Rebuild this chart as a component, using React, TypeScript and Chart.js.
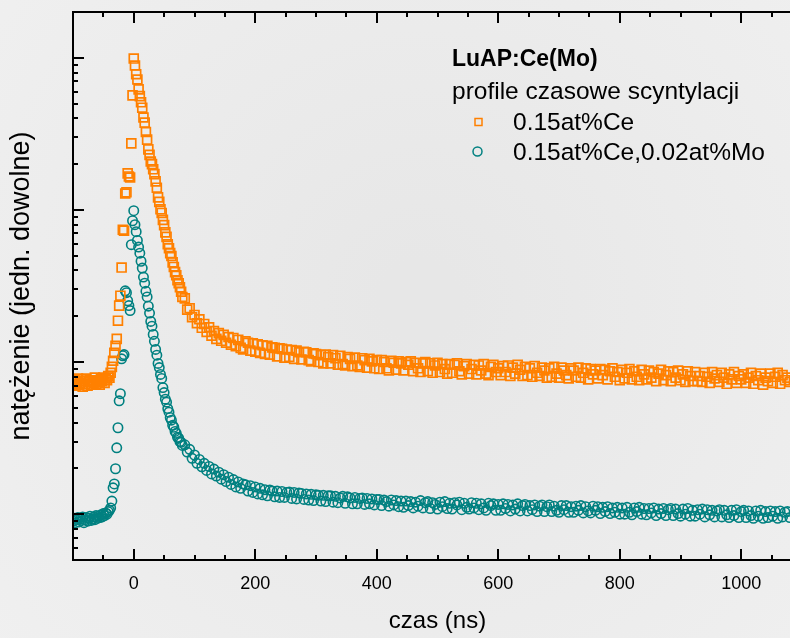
import { useEffect, useRef } from 'react';
import { Chart, registerables } from 'chart.js';

Chart.register(...registerables);

// czas (ns) – sampling times shared by both series
const czasBaseline = [
  -100, -98, -96, -94, -92, -90, -88, -86, -84, -82, -80, -78, -76, -74, -72, -70,
  -68, -66, -64, -62, -60, -58, -56, -54, -52, -50, -48, -46, -44, -42, -40,
];
const czasEdgeDecay = [
  -38, -36, -34, -32, -30, -28, -26, -24, -22, -20, -18, -16, -14, -12, -10, -8, -6, -4, -2, 0,
  2, 4, 6, 8, 10, 12, 14, 16, 18, 20, 22, 24, 26, 28, 30, 32, 34, 36, 38, 40,
  42, 44, 46, 48, 50, 52, 54, 56, 58, 60, 62, 64, 66, 68, 70, 72, 74, 76, 78, 80,
];
const czasTail = [
  84, 88, 92, 96, 100, 104, 108, 112, 116, 120,
  124, 128, 132, 136, 140, 144, 148, 152, 156, 160,
  164, 168, 172, 176, 180, 184, 188, 192, 196, 200,
  204, 208, 212, 216, 220, 224, 228, 232, 236, 240,
  244, 248, 252, 256, 260, 264, 268, 272, 276, 280,
  284, 288, 292, 296, 300, 304, 308, 312, 316, 320,
  324, 328, 332, 336, 340, 344, 348, 352, 356, 360,
  364, 368, 372, 376, 380, 384, 388, 392, 396, 400,
  404, 408, 412, 416, 420, 424, 428, 432, 436, 440,
  444, 448, 452, 456, 460, 464, 468, 472, 476, 480,
  484, 488, 492, 496, 500, 504, 508, 512, 516, 520,
  524, 528, 532, 536, 540, 544, 548, 552, 556, 560,
  564, 568, 572, 576, 580, 584, 588, 592, 596, 600,
  604, 608, 612, 616, 620, 624, 628, 632, 636, 640,
  644, 648, 652, 656, 660, 664, 668, 672, 676, 680,
  684, 688, 692, 696, 700, 704, 708, 712, 716, 720,
  724, 728, 732, 736, 740, 744, 748, 752, 756, 760,
  764, 768, 772, 776, 780, 784, 788, 792, 796, 800,
  804, 808, 812, 816, 820, 824, 828, 832, 836, 840,
  844, 848, 852, 856, 860, 864, 868, 872, 876, 880,
  884, 888, 892, 896, 900, 904, 908, 912, 916, 920,
  924, 928, 932, 936, 940, 944, 948, 952, 956, 960,
  964, 968, 972, 976, 980, 984, 988, 992, 996, 1000,
  1004, 1008, 1012, 1016, 1020, 1024, 1028, 1032, 1036, 1040,
  1044, 1048, 1052, 1056, 1060, 1064, 1068, 1072, 1076, 1080,
];

// 0.15at%Ce
const ceBaseline = [
  72, 76, 70, 74, 78, 71, 73, 77, 69, 75, 72, 78, 70, 74, 76, 71,
  75, 73, 79, 72, 76, 74, 71, 77, 75, 79, 73, 78, 76, 81, 79,
];
const ceEdgeDecay = [
  85, 93, 102, 115, 128, 142, 187, 235, 273, 418, 741, 730, 1282, 1306, 1738, 1660, 1634, 2738, 5660, 9885,
  8900, 7800, 7200, 6200, 5600, 5100, 4700, 4050, 3750, 3250, 2900, 2500, 2300, 2080, 2000, 1850, 1720, 1540, 1400, 1210,
  1130, 1010, 955, 860, 795, 712, 665, 595, 560, 520, 498, 452, 422, 390, 372, 345, 330, 310, 290, 268,
];
const ceTail = [
  262, 221, 226, 197, 204, 180, 191, 168, 178, 158,
  169, 149, 160, 142, 155, 138, 151, 134, 146, 130,
  144, 127, 140, 124, 121, 137, 134, 119, 133, 117,
  131, 115, 129, 113, 128, 112, 125, 124, 109, 123,
  122, 107, 121, 108, 120, 105, 119, 116, 104, 117,
  116, 103, 101, 114, 113, 100, 111, 98, 112, 108,
  98, 111, 106, 96, 110, 97, 95, 108, 105, 94,
  107, 95, 93, 106, 103, 92, 105, 101, 91, 103,
  90, 103, 100, 91, 88, 102, 99, 89, 101, 98,
  88, 100, 96, 101, 87, 99, 91, 86, 98, 100,
  87, 98, 85, 95, 99, 86, 97, 90, 84, 97,
  85, 96, 98, 87, 83, 94, 97, 84, 90, 96,
  83, 95, 88, 97, 84, 82, 93, 96, 86, 91,
  82, 94, 86, 95, 81, 92, 84, 96, 89, 81,
  93, 82, 91, 80, 94, 85, 81, 92, 88, 79,
  91, 80, 93, 84, 79, 92, 88, 82, 78, 91,
  88, 80, 92, 79, 85, 91, 77, 90, 83, 88,
  78, 90, 82, 89, 77, 87, 91, 80, 86, 76,
  89, 78, 85, 90, 77, 87, 80, 76, 89, 83,
  77, 88, 79, 86, 75, 84, 89, 76, 82, 87,
  75, 86, 79, 88, 76, 83, 74, 87, 81, 75,
  86, 75, 81, 74, 85, 80, 73, 86, 78, 82,
  74, 85, 79, 72, 83, 77, 86, 73, 81, 77,
  83, 73, 79, 85, 72, 81, 76, 84, 71, 79,
  75, 84, 73, 80, 85, 72, 82, 76, 79, 74,
];

// 0.15at%Ce,0.02at%Mo
const ceMoBaseline = [
  9.0, 9.4, 8.8, 9.2, 9.5, 8.9, 9.3, 9.1, 9.6, 8.8, 9.2, 9.5, 9.0, 9.4, 9.7, 9.1,
  9.3, 9.6, 9.2, 9.8, 9.4, 9.7, 9.5, 9.9, 9.6, 10.1, 9.8, 10.2, 10.0, 10.4, 10.6,
];
const ceMoEdgeDecay = [
  11.0, 12.2, 14.9, 15.8, 19.9, 27.3, 37.0, 55.6, 62, 105, 110, 112, 294, 286, 253, 235, 218, 591, 849, 988,
  800, 720, 630, 570, 520, 460, 415, 362, 330, 292, 268, 233, 210, 185, 172, 152, 137, 121, 111, 98,
  92, 83, 78, 68, 63, 57, 54.5, 49.5, 46.8, 43.2, 41.5, 38.4, 37.3, 35.0, 34.0, 32.0, 31.6, 30.0, 29.7, 28.3,
];
const ceMoTail = [
  28.6, 25.6, 26.7, 23.3, 24.5, 21.6, 22.9, 20.5, 21.6, 19.4,
  20.6, 18.4, 19.8, 17.8, 18.9, 17.0, 18.2, 16.4, 17.5, 15.7,
  16.9, 15.1, 16.3, 14.8, 15.8, 15.6, 14.2, 15.4, 13.9, 15.1,
  13.6, 14.8, 13.4, 14.5, 13.2, 14.4, 14.2, 13.0, 14.2, 12.9,
  14.1, 12.9, 13.9, 14.0, 12.7, 13.9, 12.6, 13.8, 13.7, 12.5,
  13.6, 12.4, 13.5, 12.3, 13.4, 13.3, 12.2, 13.3, 12.1, 13.2,
  13.2, 12.0, 13.1, 11.9, 12.8, 13.1, 11.8, 13.0, 12.8, 11.7,
  12.9, 11.7, 12.7, 12.8, 11.6, 12.7, 11.7, 12.6, 11.5, 12.5,
  12.5, 11.4, 12.4, 12.1, 11.3, 12.4, 11.5, 12.3, 11.2, 12.2,
  11.1, 12.2, 11.4, 12.1, 11.0, 12.0, 11.3, 12.3, 11.0, 11.9,
  12.1, 10.9, 11.9, 11.6, 10.8, 12.0, 11.2, 12.1, 10.9, 11.8,
  10.8, 11.9, 11.5, 12.0, 10.7, 11.8, 11.1, 10.8, 11.9, 11.0,
  11.8, 10.7, 11.7, 11.0, 10.6, 11.8, 11.4, 11.7, 10.6, 11.6,
  10.6, 11.7, 10.9, 11.6, 10.5, 11.5, 10.8, 11.7, 10.5, 11.4,
  11.6, 10.5, 11.4, 10.7, 11.5, 10.4, 11.3, 11.5, 10.4, 11.2,
  11.5, 10.4, 11.3, 10.6, 10.3, 11.4, 10.7, 11.4, 10.3, 11.2,
  10.3, 11.3, 10.6, 11.4, 10.2, 11.2, 10.5, 10.2, 11.3, 10.6,
  11.2, 10.1, 11.1, 10.4, 11.2, 10.1, 11.0, 10.3, 11.1, 10.0,
  11.0, 10.0, 11.1, 10.3, 9.9, 11.0, 10.4, 11.1, 10.0, 10.9,
  9.9, 10.9, 10.2, 11.0, 9.8, 10.8, 10.1, 10.9, 9.8, 10.7,
  10.9, 9.8, 10.8, 10.1, 9.7, 10.8, 10.0, 10.9, 9.7, 10.6,
  9.7, 10.7, 10.0, 10.8, 9.6, 10.7, 9.9, 10.6, 9.6, 10.5,
  10.7, 9.6, 10.6, 9.9, 9.5, 10.6, 9.8, 10.7, 9.5, 10.4,
  10.6, 9.5, 10.5, 9.8, 9.4, 10.5, 9.7, 10.6, 9.4, 10.4,
  9.5, 10.5, 9.7, 10.4, 9.4, 10.5, 9.6, 10.3, 10.4, 9.5,
];

const czas = [...czasBaseline, ...czasEdgeDecay, ...czasTail];
const ce = [...ceBaseline, ...ceEdgeDecay, ...ceTail];
const ceMo = [...ceMoBaseline, ...ceMoEdgeDecay, ...ceMoTail];

// axes
const xLabelTicks = [0, 200, 400, 600, 800, 1000];
const xAllTicks = [-50, 0, 50, 100, 150, 200, 250, 300, 350, 400, 450, 500, 550, 600, 650, 700, 750, 800, 850, 900, 950, 1000, 1050];
const yMajorTicks = [10, 100, 1000, 10000];
const yMinorTicks = [5, 6, 7, 8, 9, 20, 30, 40, 50, 60, 70, 80, 90, 200, 300, 400, 500, 600, 700, 800, 900, 2000, 3000, 4000, 5000, 6000, 7000, 8000, 9000];

const legendTitle = 'LuAP:Ce(Mo)';
const legendSubtitle = 'profile czasowe scyntylacji';
const seriesNames = ['0.15at%Ce', '0.15at%Ce,0.02at%Mo'];
const seriesColors = ['#FF8000', '#008080'];

const FONT = '"Liberation Sans", Arial, Helvetica, sans-serif';

function zip(xs: number[], ys: number[]) {
  const n = Math.min(xs.length, ys.length);
  const out: { x: number; y: number }[] = [];
  for (let i = 0; i < n; i++) out.push({ x: xs[i], y: ys[i] });
  return out;
}

const backgroundPlugin = {
  id: 'bgFill',
  beforeDraw(chart: any) {
    const { ctx, width, height } = chart;
    ctx.save();
    const g = ctx.createRadialGradient(420, 300, 40, 420, 300, 620);
    g.addColorStop(0, '#E7E7E7');
    g.addColorStop(1, '#F1F1F1');
    ctx.fillStyle = g;
    ctx.fillRect(0, 0, width, height);
    ctx.restore();
  },
};

const axesPlugin = {
  id: 'axesFrame',
  afterDatasetsDraw(chart: any) {
    const { ctx, chartArea, scales } = chart;
    const { left, right, top, bottom } = chartArea;
    const xs = scales.x;
    const ys = scales.y;
    ctx.save();
    ctx.strokeStyle = '#000';
    ctx.lineWidth = 2;
    ctx.lineCap = 'butt';
    ctx.beginPath();
    ctx.moveTo(left, top);
    ctx.lineTo(right, top);
    ctx.moveTo(left, top - 1);
    ctx.lineTo(left, bottom + 1);
    ctx.moveTo(left, bottom);
    ctx.lineTo(right, bottom);
    ctx.stroke();

    ctx.beginPath();
    for (const v of xAllTicks) {
      const px = Math.round(xs.getPixelForValue(v));
      const len = v % 200 === 0 ? 11 : 5;
      ctx.moveTo(px, bottom);
      ctx.lineTo(px, bottom - len);
      ctx.moveTo(px, top);
      ctx.lineTo(px, top + len);
    }
    for (const v of yMajorTicks) {
      const py = Math.round(ys.getPixelForValue(v));
      ctx.moveTo(left, py);
      ctx.lineTo(left + 11, py);
    }
    for (const v of yMinorTicks) {
      const py = Math.round(ys.getPixelForValue(v));
      ctx.moveTo(left, py);
      ctx.lineTo(left + 5, py);
    }
    ctx.stroke();
    ctx.restore();
  },
};

const legendPlugin = {
  id: 'textLegend',
  afterDraw(chart: any) {
    const { ctx } = chart;
    ctx.save();
    ctx.fillStyle = '#000';
    ctx.textBaseline = 'middle';
    ctx.textAlign = 'left';
    ctx.font = `bold 23px ${FONT}`;
    ctx.fillText(legendTitle, 452, 60);
    ctx.font = `24.5px ${FONT}`;
    ctx.fillText(legendSubtitle, 452, 92);
    ctx.fillText(seriesNames[0], 513, 123);
    ctx.fillText(seriesNames[1], 513, 153);
    ctx.lineWidth = 1.5;
    ctx.strokeStyle = seriesColors[0];
    ctx.strokeRect(475, 118.5, 7, 7);
    ctx.strokeStyle = seriesColors[1];
    ctx.beginPath();
    ctx.arc(477.5, 151.5, 4.5, 0, Math.PI * 2);
    ctx.stroke();
    ctx.restore();
  },
};

export default function App() {
  const canvasRef = useRef<HTMLCanvasElement | null>(null);

  useEffect(() => {
    document.body.style.margin = '0';
    document.body.style.background = '#EEEEEE';
    const canvas = canvasRef.current;
    if (!canvas) return;
    const chart = new Chart(canvas, {
      type: 'scatter',
      data: {
        datasets: [
          {
            label: seriesNames[0],
            data: zip(czas, ce),
            showLine: false,
            pointStyle: 'rect',
            pointRadius: 6.3,
            pointHoverRadius: 6.3,
            borderWidth: 1.7,
            borderColor: seriesColors[0],
            backgroundColor: 'rgba(0,0,0,0)',
          },
          {
            label: seriesNames[1],
            data: zip(czas, ceMo),
            showLine: false,
            pointStyle: 'circle',
            pointRadius: 4.7,
            pointHoverRadius: 4.7,
            borderWidth: 1.6,
            borderColor: seriesColors[1],
            backgroundColor: 'rgba(0,0,0,0)',
          },
        ],
      },
      options: {
        animation: false,
        responsive: false,
        devicePixelRatio: 1,
        events: [],
        layout: { padding: { top: 12, right: 7, left: 0, bottom: 0 } },
        plugins: {
          legend: { display: false },
          tooltip: { enabled: false },
        },
        scales: {
          x: {
            type: 'linear',
            min: -100,
            max: 1100,
            afterBuildTicks: (s: any) => {
              s.ticks = xLabelTicks.map((v) => ({ value: v }));
            },
            afterFit: (s: any) => {
              s.height = 78;
            },
            ticks: {
              color: '#000',
              font: { family: FONT, size: 18 },
              padding: 13,
              maxRotation: 0,
              autoSkip: false,
              callback: (v: any) => String(v),
            },
            grid: { display: false, drawTicks: false },
            border: { display: false },
            title: {
              display: true,
              text: 'czas (ns)',
              color: '#000',
              font: { family: FONT, size: 24 },
              padding: { top: 0, bottom: 2 },
            },
          },
          y: {
            type: 'logarithmic',
            min: 5,
            max: 20000,
            afterFit: (s: any) => {
              s.width = 73;
            },
            ticks: { display: false },
            grid: { display: false, drawTicks: false },
            border: { display: false },
            title: {
              display: true,
              text: 'natężenie (jedn. dowolne)',
              color: '#000',
              font: { family: FONT, size: 27 },
              padding: { top: 5, bottom: 0 },
            },
          },
        },
      },
      plugins: [backgroundPlugin, axesPlugin, legendPlugin],
    });
    return () => chart.destroy();
  }, []);

  return (
    <div
      style={{
        position: 'fixed',
        left: 0,
        top: 0,
        width: 790,
        height: 638,
        overflow: 'hidden',
        background: '#EEEEEE',
      }}
    >
      <canvas ref={canvasRef} width={810} height={638} style={{ display: 'block', width: 810, height: 638 }} />
    </div>
  );
}
